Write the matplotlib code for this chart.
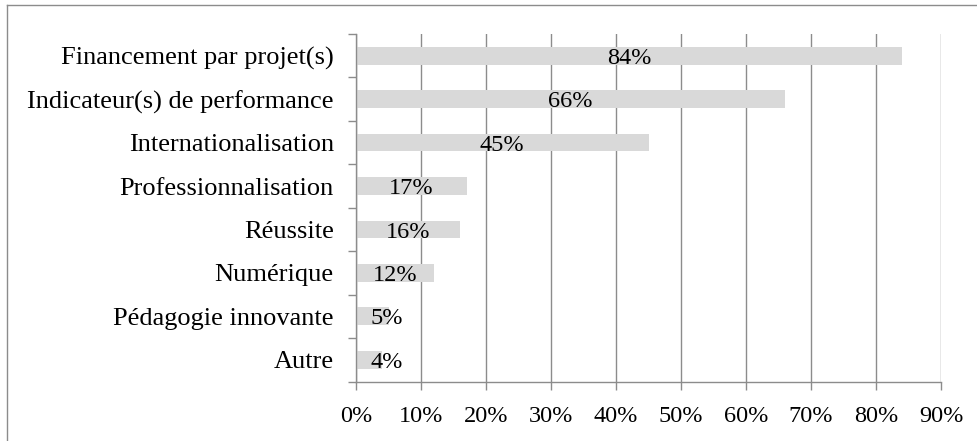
import numpy as np
import matplotlib
matplotlib.use('Agg')
import matplotlib.pyplot as plt
from matplotlib.lines import Line2D

# categories, top to bottom
categories = ['Financement par projet(s)', 'Indicateur(s) de performance',
              'Internationalisation', 'Professionnalisation', 'Réussite',
              'Numérique', 'Pédagogie innovante', 'Autre']
values = [84, 66, 45, 17, 16, 12, 5, 4]
xticks = [0, 10, 20, 30, 40, 50, 60, 70, 80, 90]

plt.rcParams['font.family'] = ['Liberation Serif', 'DejaVu Serif']

W, H = 977, 441
fig = plt.figure(figsize=(W/100, H/100), dpi=100)
ax = fig.add_axes([356/W, 1-381.5/H, (941-356)/W, (381.5-34)/H])

grey = '#8c8c8c'
n = len(categories)
ypos = np.arange(n)[::-1]  # first category at the top
ax.barh(ypos, values, height=0.41, color='#d9d9d9', zorder=2)

# data labels in the middle of the bars, pushed off the axis for short bars
for y, v in zip(ypos, values):
    ax.text(max(v/2, 4.75), y - 0.06, '%d%%' % v, ha='center', va='center',
            fontsize=17.5, color='black', zorder=3)

ax.set_xlim(0, 90)
ax.set_ylim(-0.5, n - 0.5)
ax.set_xticks(xticks)
ax.set_xticklabels(['%d%%' % t for t in xticks], fontsize=17.5)
ax.set_yticks(ypos)
ax.set_yticklabels(categories, fontsize=19)
ax.tick_params(axis='y', length=0, pad=16)
ax.tick_params(axis='x', length=6, width=1, color=grey, pad=12)
# y tick marks sit between categories
ax.set_yticks(np.arange(-0.5, n, 1), minor=True)
ax.tick_params(axis='y', which='minor', length=6, width=1, color=grey)

ax.grid(axis='x', color=grey, linewidth=1, zorder=1)
for s in ['top', 'right']:
    ax.spines[s].set_visible(False)
for s in ['left', 'bottom']:
    ax.spines[s].set_color(grey)
    ax.spines[s].set_linewidth(1)

# outer frame (only top and left edges show in the crop)
fig.add_artist(Line2D([7/W, 1], [1-5/H, 1-5/H], color=grey, lw=1))
fig.add_artist(Line2D([7/W, 7/W], [0, 1-5/H], color=grey, lw=1))

fig.savefig('out.png', dpi=100)
